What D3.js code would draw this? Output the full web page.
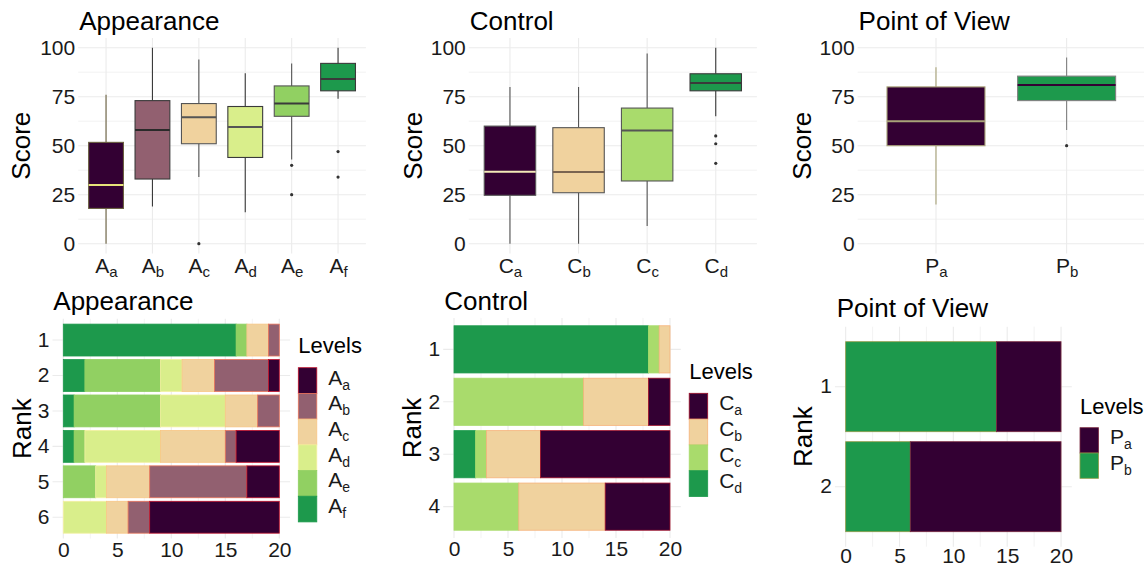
<!DOCTYPE html>
<html><head><meta charset="utf-8">
<script src="https://cdn.jsdelivr.net/npm/d3@7"></script>
<style>body{margin:0;background:#fff} svg{display:block;font-family:"Liberation Sans",Arial,sans-serif}</style>
</head><body><svg id="c" width="1144" height="570"></svg>
<script>
// ---------------- DATA ----------------
const appearanceLevels = ["a","b","c","d","e","f"];
const controlLevels = ["a","b","c","d"];
const povLevels = ["a","b"];

// boxplot stats: [lower whisker, Q1, median, Q3, upper whisker]
const appearanceBox = [
  [0, 18, 30, 51.7, 76],
  [19, 33, 58, 73, 100],
  [34, 51, 64.5, 71.5, 94],
  [16, 44, 59.5, 70, 87],
  [43, 65, 71.5, 80.5, 92],
  [74, 78, 84, 92, 100]
];
const appearanceOutliers = [[], [], [0], [], [40, 25], [47, 34]];
const controlBox = [
  [0, 24.7, 36.7, 60, 80],
  [0, 26, 36.6, 59.2, 80],
  [9, 32, 57.7, 69.2, 97],
  [65, 78, 82, 86.7, 100]
];
const controlOutliers = [[], [], [], [55, 51, 41]];
const povBox = [
  [20, 50, 62.5, 80, 90],
  [58, 73, 81, 85.5, 95]
];
const povOutliers = [[], [50]];

// rank counts (per rank, index = rank-1)
const appearanceRanks = ["1","2","3","4","5","6"];
const appearanceCounts = {
  a: [0, 1, 0, 4, 3, 12],
  b: [1, 5, 2, 1, 9, 2],
  c: [2, 3, 3, 6, 4, 2],
  d: [0, 2, 6, 7, 1, 4],
  e: [1, 7, 8, 1, 3, 0],
  f: [16, 2, 1, 1, 0, 0]
};
const controlRanks = ["1","2","3","4"];
const controlCounts = {
  a: [0, 2, 12, 6],
  b: [1, 6, 5, 8],
  c: [1, 12, 1, 6],
  d: [18, 0, 2, 0]
};
const povRanks = ["1","2"];
const povCounts = {
  a: [6, 14],
  b: [14, 6]
};

const scoreTicks = [0, 25, 50, 75, 100];
const scoreMinor = [12.5, 37.5, 62.5, 87.5];
const countTicks = [0, 5, 10, 15, 20];
const countMinor = [2.5, 7.5, 12.5, 17.5];

// ---------------- STYLES ----------------
const appearanceFill = {a:"#330033", b:"#926070", c:"#f0d29e", d:"#d9ee8b", e:"#91d062", f:"#1d994c"};
const appearanceEdge = {a:"#c0102a", b:"#e8735a", c:"#f8c684", d:"#f2f0a0", e:"#91d062", f:"#1d994c"};
const appearanceBoxStroke = ["#6a6040", "#3a3a3a", "#555555", "#3a3a3a", "#555555", "#3a3a3a"];
const appearanceMedian = ["#e6e27a", "#2a2a2a", "#555555", "#555555", "#3a3a3a", "#3a3a3a"];
const controlFill = {a:"#330033", b:"#f0d29e", c:"#a9db6c", d:"#1d994c"};
const controlEdge = {a:"#a0102a", b:"#f6b27a", c:"#a9db6c", d:"#1d994c"};
const controlBoxStroke = ["#555555", "#555555", "#555555", "#3a3a3a"];
const controlMedian = ["#f4e8b8", "#7a6450", "#555555", "#3a3a3a"];
const povFill = {a:"#330033", b:"#1d994c"};
const povEdge = {a:"#7a2a40", b:"#8f9a48"};
const povBoxStroke = ["#a8a278", "#808080"];
const povMedian = ["#a8a278", "#330033"];

const FONT = '"Liberation Sans",Arial,sans-serif';
const svg = d3.select("#c");

function subLabel(sel, letter, sub, size, subSize, shift) {
  sel.text(null);
  sel.append("tspan").text(letter).attr("font-size", size);
  sel.append("tspan").text(sub).attr("font-size", subSize).attr("dy", shift);
}

function gridH(g, y, vals, x0, x1, w) {
  g.selectAll(null).data(vals).enter().append("line")
    .attr("x1", x0).attr("x2", x1).attr("y1", d => y(d)).attr("y2", d => y(d))
    .attr("stroke", "#ebebeb").attr("stroke-width", w);
}
function gridV(g, x, vals, y0, y1, w) {
  g.selectAll(null).data(vals).enter().append("line")
    .attr("y1", y0).attr("y2", y1).attr("x1", d => x(d)).attr("x2", d => x(d))
    .attr("stroke", "#ebebeb").attr("stroke-width", w);
}

function boxPanel(L, letter, levels, stats, outliers, fills, strokes, medians, title) {
  const g = svg.append("g");
  const x = d3.scalePoint().domain(levels).range([L.x0, L.x1]).padding(0.6);
  const y = d3.scaleLinear().domain([-5, 105]).range([L.y1, L.y0]);
  const bw = x.step() * 0.75;
  gridH(g, y, scoreMinor, L.x0, L.x1, 0.6);
  gridH(g, y, scoreTicks, L.x0, L.x1, 1.1);
  gridV(g, x, levels, L.y0, L.y1, 1.1);
  const items = levels.map((k, i) => ({k, s: stats[i], o: outliers[i], i}));
  const bx = g.selectAll(".bx").data(items).enter().append("g");
  bx.append("line").attr("x1", d => x(d.k)).attr("x2", d => x(d.k))
    .attr("y1", d => y(d.s[0])).attr("y2", d => y(d.s[1]))
    .attr("stroke", d => strokes[d.i]).attr("stroke-width", 1.1);
  bx.append("line").attr("x1", d => x(d.k)).attr("x2", d => x(d.k))
    .attr("y1", d => y(d.s[3])).attr("y2", d => y(d.s[4]))
    .attr("stroke", d => strokes[d.i]).attr("stroke-width", 1.1);
  bx.append("rect").attr("x", d => x(d.k) - bw / 2).attr("width", bw)
    .attr("y", d => y(d.s[3])).attr("height", d => y(d.s[1]) - y(d.s[3]))
    .attr("fill", d => fills[d.k]).attr("stroke", d => strokes[d.i]).attr("stroke-width", 1.1);
  bx.append("line").attr("x1", d => x(d.k) - bw / 2).attr("x2", d => x(d.k) + bw / 2)
    .attr("y1", d => y(d.s[2])).attr("y2", d => y(d.s[2]))
    .attr("stroke", d => medians[d.i]).attr("stroke-width", 2);
  bx.selectAll("circle").data(d => d.o.map(v => ({k: d.k, v}))).enter().append("circle")
    .attr("cx", d => x(d.k)).attr("cy", d => y(d.v)).attr("r", 1.6).attr("fill", "#333");
  // axes
  const ya = g.append("g").attr("transform", `translate(${L.x0},0)`)
    .call(d3.axisLeft(y).tickValues(scoreTicks).tickSize(0).tickPadding(3));
  ya.select(".domain").remove();
  ya.selectAll("text").attr("font-size", 21).attr("font-family", FONT).attr("fill", "#1a1a1a");
  const xa = g.append("g").attr("transform", `translate(0,${L.y1})`)
    .call(d3.axisBottom(x).tickSize(0));
  xa.select(".domain").remove();
  xa.selectAll("text").attr("y", 19.5).attr("dy", 0).attr("font-family", FONT).attr("fill", "#1a1a1a")
    .each(function (d) { subLabel(d3.select(this), letter, d, 21, 15, 4); });
  g.append("text").attr("x", L.x0 + 1).attr("y", 30).attr("font-size", 26).attr("font-family", FONT).text(title);
  g.append("text").attr("transform", `translate(${L.ax},${(L.y0 + L.y1) / 2}) rotate(-90)`)
    .attr("text-anchor", "middle").attr("dy", "0.35em").attr("font-size", 26).attr("font-family", FONT).text("Score");
}

function barPanel(L, letter, levels, ranks, counts, fills, edges, title) {
  const g = svg.append("g");
  const x = d3.scaleLinear().domain([-1, 21]).range([L.x0, L.x1]);
  const y = d3.scaleBand().domain(ranks).range([L.y0, L.y1]).paddingInner(0.1).paddingOuter(0.15);
  gridV(g, x, countMinor, L.y0, L.y1, 0.6);
  gridV(g, x, countTicks, L.y0, L.y1, 1.1);
  gridH(g, v => y(v) + y.bandwidth() / 2, ranks, L.x0, L.x1, 1.1);
  const rows = ranks.map((r, i) => { const o = {rank: r}; levels.forEach(k => o[k] = counts[k][i]); return o; });
  const keys = levels.slice().reverse();
  const series = d3.stack().keys(keys)(rows);
  g.selectAll(".s").data(series).enter().append("g")
    .attr("fill", s => fills[s.key]).attr("stroke", s => edges[s.key]).attr("stroke-width", 0.8)
    .selectAll("rect").data(s => s.filter(d => d[1] - d[0] > 0)).enter().append("rect")
    .attr("x", d => x(d[0])).attr("width", d => x(d[1]) - x(d[0]))
    .attr("y", d => y(d.data.rank)).attr("height", y.bandwidth());
  const ya = g.append("g").attr("transform", `translate(${L.x0},0)`)
    .call(d3.axisLeft(y).tickSize(0).tickPadding(3));
  ya.select(".domain").remove();
  ya.selectAll("text").attr("font-size", 21).attr("font-family", FONT).attr("fill", "#1a1a1a");
  const xa = g.append("g").attr("transform", `translate(0,${L.y1})`)
    .call(d3.axisBottom(x).tickValues(countTicks).tickSize(0));
  xa.select(".domain").remove();
  xa.selectAll("text").attr("y", L.tb).attr("dy", 0).attr("font-size", 21).attr("font-family", FONT).attr("fill", "#1a1a1a");
  g.append("text").attr("x", L.tx).attr("y", L.ty).attr("font-size", 26).attr("font-family", FONT).text(title);
  g.append("text").attr("transform", `translate(${L.ax},${(L.y0 + L.y1) / 2}) rotate(-90)`)
    .attr("text-anchor", "middle").attr("dy", "0.35em").attr("font-size", 26).attr("font-family", FONT).text("Rank");
  // legend
  const lg = g.append("g");
  lg.append("text").attr("x", L.lx).attr("y", L.lty).attr("font-size", 22).attr("font-family", FONT).text("Levels");
  const kh = L.kh;
  const it = lg.selectAll(".k").data(levels).enter().append("g")
    .attr("transform", (d, i) => `translate(${L.lx},${L.ly + i * kh})`);
  it.append("rect").attr("width", 18.5).attr("height", kh).attr("fill", d => fills[d])
    .attr("stroke", d => edges[d]).attr("stroke-width", 0.8);
  it.append("text").attr("x", 30).attr("y", kh / 2 + 4).attr("font-family", FONT).attr("fill", "#1a1a1a")
    .each(function (d) { subLabel(d3.select(this), letter, d, 21, 14, 5); });
}

// ---------------- PANELS ----------------
boxPanel({x0: 78.2, x1: 365.9, y0: 37.9, y1: 253.5, ax: 21}, "A", appearanceLevels, appearanceBox,
  appearanceOutliers, appearanceFill, appearanceBoxStroke, appearanceMedian, "Appearance");
boxPanel({x0: 468.8, x1: 756.9, y0: 37.9, y1: 253.5, ax: 412.5}, "C", controlLevels, controlBox,
  controlOutliers, controlFill, controlBoxStroke, controlMedian, "Control");
boxPanel({x0: 857.6, x1: 1145, y0: 37.9, y1: 253.5, ax: 801.7}, "P", povLevels, povBox,
  povOutliers, povFill, povBoxStroke, povMedian, "Point of View");

barPanel({x0: 52.5, x1: 290.1, y0: 318.8, y1: 538.5, tb: 18, tx: 53.3, ty: 310, ax: 21.7,
  lx: 298.3, lty: 353, ly: 367.7, kh: 25.7}, "A", appearanceLevels, appearanceRanks, appearanceCounts,
  appearanceFill, appearanceEdge, "Appearance");
barPanel({x0: 443.2, x1: 680.8, y0: 317.9, y1: 538.1, tb: 18, tx: 444.3, ty: 310, ax: 411.7,
  lx: 689.2, lty: 378.5, ly: 393.3, kh: 25.8}, "C", controlLevels, controlRanks, controlCounts,
  controlFill, controlEdge, "Control");
barPanel({x0: 834.9, x1: 1071.8, y0: 326.7, y1: 546.7, tb: 16.5, tx: 836.7, ty: 317, ax: 803.3,
  lx: 1080, lty: 414, ly: 427.7, kh: 25.3}, "P", povLevels, povRanks, povCounts,
  povFill, povEdge, "Point of View");
</script></body></html>
